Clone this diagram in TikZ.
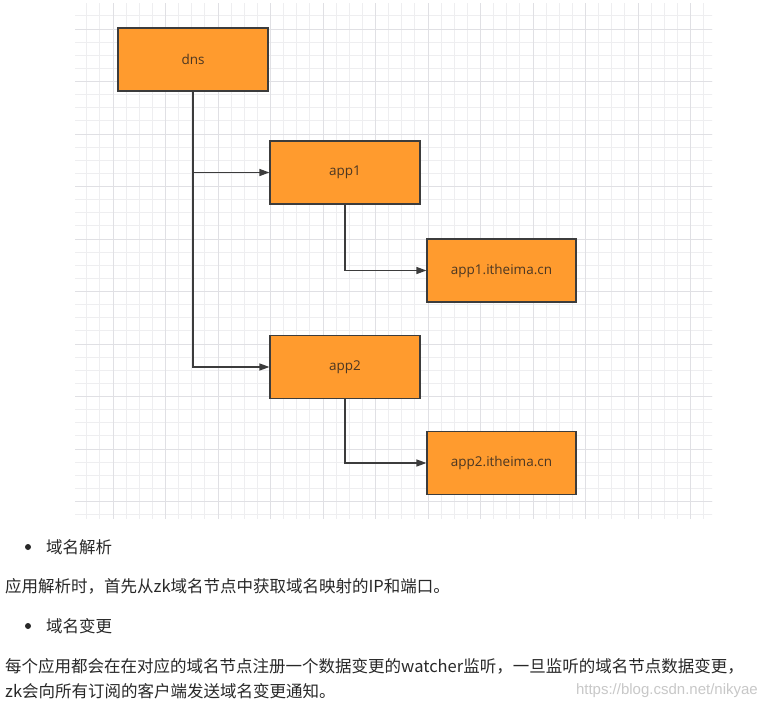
\documentclass[tikz,border=0pt]{standalone}
\usepackage{fontspec}
\setmainfont{Noto Sans CJK SC}
\newfontfamily\boxfont{Open Sans}
\newfontfamily\wmfont{Liberation Sans}
\usetikzlibrary{arrows.meta}
\definecolor{boxorange}{RGB}{255,155,46}
\definecolor{boxline}{RGB}{60,60,60}
\definecolor{boxtext}{RGB}{75,55,35}
\definecolor{gridminor}{RGB}{238,238,240}
\definecolor{gridmajor}{RGB}{224,224,228}
\definecolor{bodytext}{RGB}{40,40,40}
\definecolor{wmgray}{RGB}{200,200,200}
\tikzset{
  box/.style={draw=boxline, fill=boxorange, line width=1.2pt, minimum width=150pt,
    minimum height=63pt, inner sep=0pt, text=boxtext, font=\boxfont\fontsize{13.5pt}{16pt}\selectfont},
  conn/.style={draw=boxline, line width=1.3pt, -{Triangle[length=10pt,width=7pt]}},
  body/.style={anchor=west, inner sep=0pt, text=bodytext, font=\fontsize{16.5pt}{20pt}\selectfont},
  minorline/.style={draw=gridminor, line width=0.8pt},
  majorline/.style={draw=gridmajor, line width=1pt}
}
\begin{document}
\begin{tikzpicture}[x=1pt,y=-1pt]
\useasboundingbox[fill=white] (0,0) rectangle (766,712);
% grid
\begin{scope}
\clip (75,3) rectangle (712,518);
\foreach \i in {-4,...,46} {
  \pgfmathsetmacro\xx{113+13.125*\i}
  \draw[minorline] (\xx,0) -- (\xx,520);
}
\foreach \i in {-3,...,38} {
  \pgfmathsetmacro\yy{29+13.125*\i}
  \draw[minorline] (70,\yy) -- (715,\yy);
}
\foreach \i in {-1,...,11} {
  \pgfmathsetmacro\xx{113+52.5*\i}
  \draw[majorline] (\xx,0) -- (\xx,520);
}
\foreach \i in {-1,...,10} {
  \pgfmathsetmacro\yy{29+52.5*\i}
  \draw[majorline] (70,\yy) -- (715,\yy);
}
\end{scope}
% boxes
\node[box] (dns) at (193,59.5) {dns};
\node[box] (app1) at (345,172.5) {app1};
\node[box, minimum width=149pt] (app1d) at (501.5,270.5) {app1.itheima.cn};
\node[box] (app2) at (345,367) {app2};
\node[box, minimum width=149pt] (app2d) at (501.5,463) {app2.itheima.cn};
% connectors
\draw[conn] (dns.south) |- (app2.west);
\draw[conn] (dns.south |- app1.west) -- (app1.west);
\draw[conn] (app1.south) |- (app1d.west);
\draw[conn] (app2.south) |- (app2d.west);
% text
\node[circle, fill=bodytext, inner sep=0pt, minimum size=6pt] (b1) at (28,547) {};
\node[body] (t1) at (46,547) {域名解析};
\node[body] (t2) at (5,586) {应用解析时，首先从zk域名节点中获取域名映射的IP和端口。};
\node[circle, fill=bodytext, inner sep=0pt, minimum size=6pt] (b2) at (28,626) {};
\node[body] (t3) at (46,626) {域名变更};
\node[body] (t4) at (5,666) {每个应用都会在在对应的域名节点注册一个数据变更的watcher监听，一旦监听的域名节点数据变更，};
\node[body] (t5) at (5,691) {zk会向所有订阅的客户端发送域名变更通知。};
\node[anchor=east, inner sep=0pt, text=wmgray, font=\wmfont\fontsize{15pt}{18pt}\selectfont] (wm) at (758,691) {https://blog.csdn.net/nikyae};
\end{tikzpicture}
\end{document}
